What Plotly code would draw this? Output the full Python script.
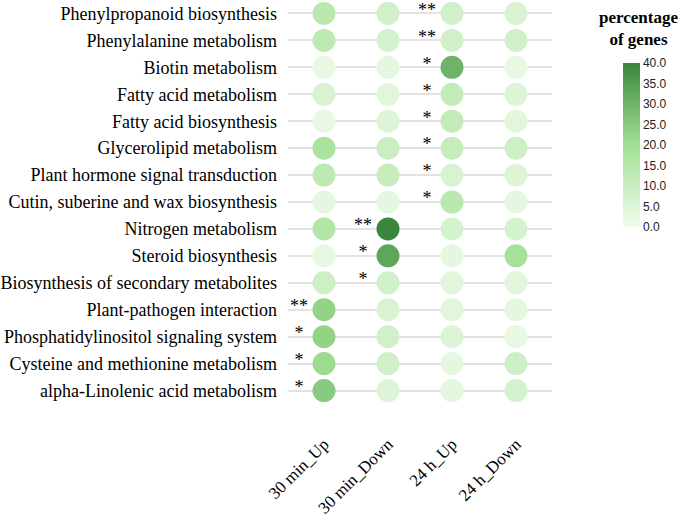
import plotly.graph_objects as go

pathways = [
    "Phenylpropanoid biosynthesis",
    "Phenylalanine metabolism",
    "Biotin metabolism",
    "Fatty acid metabolism",
    "Fatty acid biosynthesis",
    "Glycerolipid metabolism",
    "Plant hormone signal transduction",
    "Cutin, suberine and wax biosynthesis",
    "Nitrogen metabolism",
    "Steroid biosynthesis",
    "Biosynthesis of secondary metabolites",
    "Plant-pathogen interaction",
    "Phosphatidylinositol signaling system",
    "Cysteine and methionine metabolism",
    "alpha-Linolenic acid metabolism",
]
conditions = ["30 min_Up", "30 min_Down", "24 h_Up", "24 h_Down"]

up_30min = [14, 13, 2, 6, 2, 18, 13, 3, 16, 2, 9, 23, 23, 21, 25]
down_30min = [8, 7, 3, 4, 5, 10, 11, 3, 40, 33, 8, 6, 8, 8, 5]
up_24h = [8, 8, 30, 12, 12, 11, 6, 14, 7, 3, 4, 4, 5, 3, 3]
down_24h = [6, 8, 2, 5, 4, 9, 5, 3, 7, 19, 4, 3, 2, 9, 7]

stars_30min_up = ["", "", "", "", "", "", "", "", "", "", "", "**", "*", "*", "*"]
stars_30min_down = ["", "", "", "", "", "", "", "", "**", "*", "*", "", "", "", ""]
stars_24h_up = ["**", "**", "*", "*", "*", "*", "*", "*", "", "", "", "", "", "", ""]
stars_24h_down = [""] * 15

values = [up_30min, down_30min, up_24h, down_24h]
stars = [stars_30min_up, stars_30min_down, stars_24h_up, stars_24h_down]

colorscale = [[0, "#f1fbec"], [0.5, "#a2e095"], [1, "#3a863c"]]

fig = go.Figure()
xs, ys, cs = [], [], []
for ci, vals in enumerate(values):
    for ri, v in enumerate(vals):
        xs.append(ci)
        ys.append(ri)
        cs.append(v)

fig.add_trace(go.Scatter(
    x=xs, y=ys, mode="markers",
    marker=dict(size=23, color=cs, colorscale=colorscale, cmin=0, cmax=40,
                line=dict(width=0),
                colorbar=dict(
                    thickness=17, lenmode="pixels", len=164,
                    x=(623 - 288) / 264, xanchor="left", xpad=0,
                    y=1 - 145 / 404, yanchor="middle", ypad=0,
                    outlinewidth=0,
                    tickvals=[0, 5, 10, 15, 20, 25, 30, 35, 40],
                    tickformat=".1f", ticks="",
                    tickfont=dict(family="Liberation Sans, Arial", size=12, color="#222"),
                )),
    showlegend=False, hoverinfo="skip",
))

sx, sy, st = [], [], []
for ci, col in enumerate(stars):
    for ri, s in enumerate(col):
        if s:
            sx.append(ci - 0.39)
            sy.append(ri - 0.08)
            st.append(s)
fig.add_trace(go.Scatter(
    x=sx, y=sy, mode="text", text=st,
    textfont=dict(family="Liberation Serif, Times New Roman", size=18, color="black"),
    showlegend=False, hoverinfo="skip",
))

fig.add_annotation(
    text="<b>percentage<br>of genes</b>", xref="paper", yref="paper",
    x=(638 - 288) / 264, y=1 - 6 / 404, xanchor="center", yanchor="top",
    showarrow=False, align="center",
    font=dict(family="Liberation Serif, Times New Roman", size=17, color="black"),
)

fig.update_layout(
    width=685, height=518,
    margin=dict(l=288, r=133, t=0, b=114, autoexpand=False),
    plot_bgcolor="white", paper_bgcolor="white",
    xaxis=dict(
        range=[-0.5625, 3.5625], tickvals=list(range(4)), ticktext=conditions,
        tickangle=-45, showgrid=False, zeroline=False, showline=False,
        ticks="", ticklabelstandoff=26, automargin=False,
        tickfont=dict(family="Liberation Serif, Times New Roman", size=17, color="black"),
    ),
    yaxis=dict(
        range=[14.5, -0.5], tickvals=list(range(15)), ticktext=pathways,
        showgrid=True, gridcolor="#e3e3e3", gridwidth=2, zeroline=False, showline=False,
        ticks="", ticklabelstandoff=10, automargin=False,
        tickfont=dict(family="Liberation Serif, Times New Roman", size=18, color="black"),
    ),
)

fig.write_html("out.html", config={"displayModeBar": False})
with open("out.html", encoding="utf-8") as f:
    html = f.read()
html = html.replace("<head>", "<head><style>html,body{margin:0;padding:0;overflow:hidden}</style>", 1)
with open("out.html", "w", encoding="utf-8") as f:
    f.write(html)
